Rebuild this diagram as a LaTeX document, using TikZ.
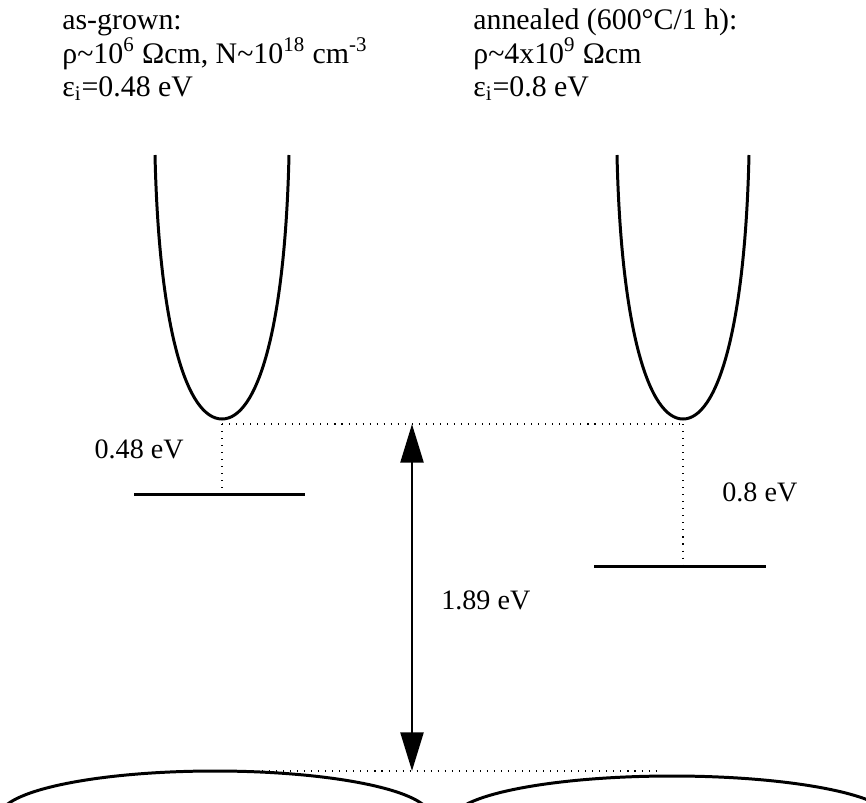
\documentclass[tikz,border=0pt]{standalone}
\usepackage{fontspec}
\setmainfont{Liberation Serif}
\usetikzlibrary{arrows.meta}

\begin{document}
\begin{tikzpicture}[x=0.02cm,y=-0.02cm,
    texte/.style={anchor=base west,inner sep=0pt,font=\fontsize{17}{20}\selectfont},
    cote/.style={texte,font=\fontsize{16}{19}\selectfont},
    courbe/.style={line width=1.7pt},
    niveau/.style={line width=1.7pt},
    pointille/.style={line width=0.6pt,dash pattern=on 0.6pt off 3.4pt},
    fleche/.style={line width=1.7pt,{Triangle[length=22pt,width=13pt]}-{Triangle[length=22pt,width=13pt]}}]
    % cadre de l'image
    \useasboundingbox (0,0) rectangle (866,802);

    % les textes du haut : a gauche l'echantillon brut, a droite le recuit
    \node[texte] (titreG) at (62,29) {as-grown:};
    \node[texte] (rhoG) at (62,63) {ρ\textasciitilde10\textsuperscript{6} Ωcm, N\textasciitilde10\textsuperscript{18} cm\textsuperscript{-3}};
    \node[texte] (epsG) at (62,96) {ε\textsubscript{i}=0.48 eV};
    \node[texte] (titreD) at (473,29) {annealed (600°C/1 h):};
    \node[texte] (rhoD) at (473,63) {ρ\textasciitilde4x10\textsuperscript{9} Ωcm};
    \node[texte] (epsD) at (473,96) {ε\textsubscript{i}=0.8 eV};

    % les points utiles
    \coordinate (minG) at (222,419);
    \coordinate (minD) at (683,419);
    \coordinate (hautG) at (222,424);
    \coordinate (hautD) at (683,424);
    \coordinate (nivG) at (222,494);
    \coordinate (nivD) at (683,566);
    \coordinate (flecheHaut) at (412,424);
    \coordinate (flecheBas) at (412,771);
    \coordinate (basG) at (262,771);
    \coordinate (basD) at (660,771);

    % bandes de conduction
    \draw[courbe] (155,155) .. controls (159,330) and (187,419) .. (minG)
        .. controls (257,419) and (285,330) .. (289,155);
    \draw[courbe] (617,155) .. controls (621,330) and (649,419) .. (minD)
        .. controls (717,419) and (745,330) .. (749,155);

    % niveaux des defauts
    \draw[niveau] (134,494) -- (nivG) -- (305,494);
    \draw[niveau] (594,566) -- (nivD) -- (766,566);

    % lignes en pointille
    \draw[pointille] (hautG) -- (hautD);
    \draw[pointille] (hautG) -- (nivG);
    \draw[pointille] (hautD) -- (nivD);
    \draw[pointille] (basG) -- (basD);

    % la bande interdite
    \draw[fleche] (flecheBas) -- (flecheHaut);
    \node[cote] (gap) at (441,609) {1.89 eV};
    \node[cote,anchor=base east] (energieG) at (184,458) {0.48 eV};
    \node[cote] (energieD) at (722,501) {0.8 eV};

    % bandes de valence, coupees par le bord
    \begin{scope}
        \clip (0,0) rectangle (866,802);
        \draw[courbe] (215,816) ellipse [x radius=215,y radius=45];
        \draw[courbe] (672,820) ellipse [x radius=220,y radius=44];
    \end{scope}
\end{tikzpicture}
\end{document}
